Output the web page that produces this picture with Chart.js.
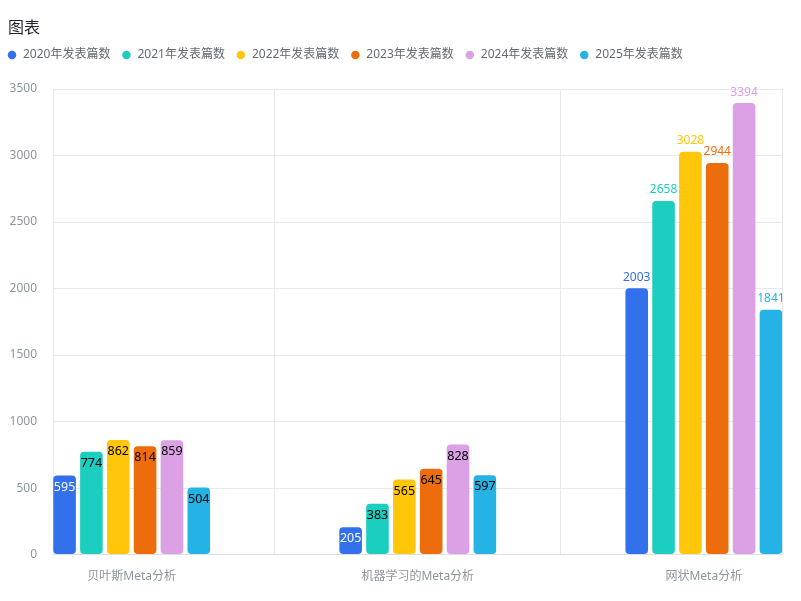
<!DOCTYPE html>
<html>
<head>
<meta charset="utf-8">
<script src="https://cdn.jsdelivr.net/npm/chart.js@4.4.1/dist/chart.umd.min.js"></script>
<style>
  html, body { margin: 0; padding: 0; background: #fff; }
  .card { position: relative; width: 801px; height: 601px; }
  .title {
    position: absolute; left: 8px; top: 16px;
    font: 16px/20px "Noto Sans CJK SC", sans-serif; color: #1f2329;
  }
  canvas { position: absolute; left: 0; top: 0; }
</style>
</head>
<body>
<div class="card">
  <canvas id="chart" width="801" height="601"></canvas>
  <div class="title">图表</div>
</div>
<script>
const FONT = '"Noto Sans", "Noto Sans CJK SC", sans-serif';

const categories = ['贝叶斯Meta分析', '机器学习的Meta分析', '网状Meta分析'];
const seriesNames = ['2020年发表篇数', '2021年发表篇数', '2022年发表篇数', '2023年发表篇数', '2024年发表篇数', '2025年发表篇数'];
const s2020 = [595, 205, 2003];
const s2021 = [774, 383, 2658];
const s2022 = [862, 565, 3028];
const s2023 = [814, 645, 2944];
const s2024 = [859, 828, 3394];
const s2025 = [504, 597, 1841];
const yTicks = [0, 500, 1000, 1500, 2000, 2500, 3000, 3500];

const colors = ['#3370EB', '#1BCEBF', '#FFC60A', '#ED6D0C', '#DCA1E4', '#25B2E5'];
const gridColor = '#e8e9eb';

const seriesValues = [s2020, s2021, s2022, s2023, s2024, s2025];
const datasets = seriesValues.map((vals, i) => ({
    label: seriesNames[i],
    data: vals.map((v, idx) => ({ x: idx, y: v })),
    backgroundColor: colors[i],
    borderRadius: 4,
    borderSkipped: false,
    categoryPercentage: 0.563,
    barPercentage: 0.842,
}));

// 图例和图表之间留一点空隙
const legendSpacing = {
    id: 'legendSpacing',
    beforeInit(chart) {
        const originalFit = chart.legend.fit;
        chart.legend.fit = function fit() {
            originalFit.bind(chart.legend)();
            this.height += 18;
        };
    }
};

// 柱子上的数值
const barLabels = {
    id: 'barLabels',
    afterDatasetsDraw(chart) {
        const ctx = chart.ctx;
        chart.data.datasets.forEach((ds, di) => {
            const meta = chart.getDatasetMeta(di);
            meta.data.forEach((bar, i) => {
                const v = ds.data[i].y;
                ctx.save();
                ctx.textAlign = 'center';
                ctx.textBaseline = 'middle';
                if (v >= 1000) {
                    ctx.font = '12px ' + FONT;
                    ctx.fillStyle = ds.backgroundColor;
                    ctx.fillText(String(v), bar.x, bar.y - 11);
                } else {
                    ctx.font = '12.5px ' + FONT;
                    ctx.fillStyle = di === 0 ? '#ffffff' : '#000000';
                    ctx.fillText(String(v), bar.x, bar.y + 11.5);
                }
                ctx.restore();
            });
        });
    }
};

new Chart(document.getElementById('chart'), {
    type: 'bar',
    data: { datasets: datasets },
    options: {
        responsive: false,
        animation: false,
        layout: { padding: { left: -4, top: 38, right: 18.5, bottom: 2 } },
        plugins: {
            legend: {
                position: 'top',
                align: 'start',
                labels: {
                    usePointStyle: true,
                    pointStyle: 'circle',
                    boxWidth: 10,
                    boxHeight: 6,
                    padding: 11,
                    color: '#646a73',
                    font: { size: 12, family: FONT },
                },
            },
            title: { display: false },
            tooltip: { enabled: false },
        },
        scales: {
            x: {
                type: 'linear',
                min: -0.275,
                max: 2.275,
                offset: false,
                afterBuildTicks: scale => {
                    scale.ticks = categories.map((c, i) => ({ value: i }));
                },
                ticks: {
                    autoSkip: false,
                    maxRotation: 0,
                    padding: 15,
                    color: '#8f959e',
                    font: { size: 12, family: FONT },
                    callback: value => categories[value],
                },
                grid: { offset: true, drawTicks: false, color: gridColor },
                border: { color: '#dee0e3', width: 1 },
            },
            y: {
                min: 0,
                max: 3500,
                afterFit: scale => { scale.width = 57; },
                afterBuildTicks: scale => {
                    scale.ticks = yTicks.map(v => ({ value: v }));
                },
                ticks: {
                    padding: 16,
                    color: '#8f959e',
                    font: { size: 12, family: FONT },
                    callback: value => String(value),
                },
                grid: { drawTicks: false, color: gridColor },
                border: { color: gridColor },
            },
            yRight: {
                position: 'right',
                ticks: { display: false },
                grid: { display: false, drawTicks: false },
                border: { color: gridColor },
            },
        },
    },
    plugins: [legendSpacing, barLabels],
});
</script>
</body>
</html>
